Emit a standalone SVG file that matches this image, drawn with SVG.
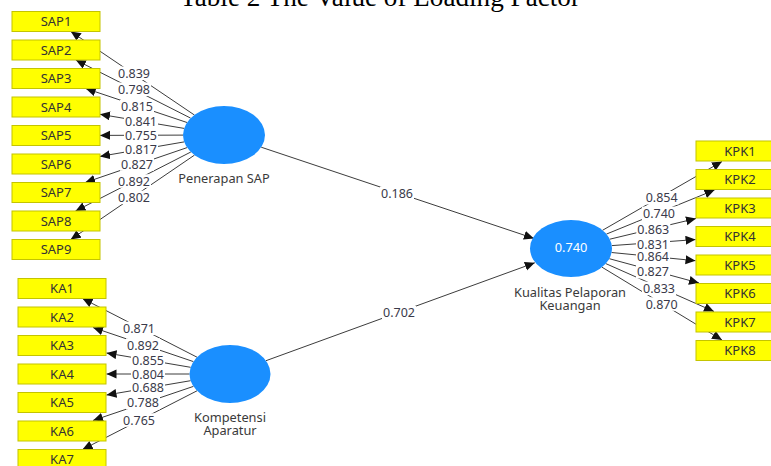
<svg xmlns="http://www.w3.org/2000/svg" width="771" height="466" viewBox="0 0 771 466">
<style>
.box{fill:#ffff00;stroke:#c4c400;stroke-width:1}
.bt{font-family:"Noto Sans","Open Sans",sans-serif;font-size:13px;fill:#333;text-anchor:middle}
.lv{fill:#1a8fff}
.lt{font-family:"Noto Sans","Open Sans",sans-serif;font-size:12.8px;fill:#3a3a3a;text-anchor:middle}
.ln{stroke:#3c3c3c;stroke-width:1;fill:none;marker-end:url(#ah)}
.lb{fill:#ffffff}
.lbt{font-family:"Noto Sans","Open Sans",sans-serif;font-size:12.5px;fill:#3a3a4a;text-anchor:middle}
.title{font-family:"Liberation Serif","Times New Roman",serif;font-size:26.5px;fill:#000}
</style>
<defs>
<marker id="ah" markerWidth="11" markerHeight="10" refX="10" refY="4.5" orient="auto" markerUnits="userSpaceOnUse">
<path d="M0,0 L10,4.5 L0,9 z" fill="#111"/>
</marker>
</defs>
<rect width="771" height="466" fill="#ffffff"/>
<text class="title" x="180" y="6" textLength="400" lengthAdjust="spacingAndGlyphs">Table 2 The Value of Loading Factor</text>

<g id="connectors">
<line class="ln" x1="194.4" y1="115.0" x2="70.8" y2="31.5"/>
<line class="ln" x1="190.6" y1="118.1" x2="75.8" y2="60"/>
<line class="ln" x1="187.0" y1="122.5" x2="85.7" y2="88.5"/>
<line class="ln" x1="184.1" y1="128.4" x2="100" y2="114.3"/>
<line class="ln" x1="183" y1="135.1" x2="100" y2="135.4"/>
<line class="ln" x1="184.2" y1="141.9" x2="100" y2="156.4"/>
<line class="ln" x1="187.1" y1="147.6" x2="85.2" y2="182.5"/>
<line class="ln" x1="190.8" y1="152.0" x2="75.5" y2="211"/>
<line class="ln" x1="194.5" y1="155.1" x2="70.7" y2="239.5"/>

<line class="ln" x1="197.0" y1="357.2" x2="82.5" y2="298.5"/>
<line class="ln" x1="193.4" y1="361.6" x2="93" y2="327.5"/>
<line class="ln" x1="190.6" y1="367.3" x2="106.5" y2="353.0"/>
<line class="ln" x1="189.5" y1="374" x2="106.5" y2="374"/>
<line class="ln" x1="190.6" y1="380.7" x2="106.5" y2="395.0"/>
<line class="ln" x1="193.4" y1="386.4" x2="93" y2="420.5"/>
<line class="ln" x1="197.0" y1="390.8" x2="82.5" y2="449.5"/>

<line class="ln" x1="602.5" y1="230.3" x2="722" y2="161.5"/>
<line class="ln" x1="606.4" y1="234.1" x2="714.5" y2="190"/>
<line class="ln" x1="609.8" y1="239.2" x2="696" y2="218.5"/>
<line class="ln" x1="611.8" y1="245.6" x2="695.5" y2="239.6"/>
<line class="ln" x1="611.6" y1="252.5" x2="695.5" y2="260.7"/>
<line class="ln" x1="609.3" y1="258.7" x2="699" y2="283"/>
<line class="ln" x1="605.8" y1="263.6" x2="714" y2="311.5"/>
<line class="ln" x1="602" y1="267.2" x2="722" y2="340"/>

<line class="ln" x1="261.2" y1="147.2" x2="533.9" y2="238.4"/>
<line class="ln" x1="266.0" y1="360.7" x2="534.8" y2="262.8"/>
</g>

<g id="edge-labels">
<rect class="lb" x="117" y="66.5" width="34" height="13.5"/><text class="lbt" x="134" y="78">0.839</text>
<rect class="lb" x="117" y="82.5" width="34" height="13.5"/><text class="lbt" x="134" y="94">0.798</text>
<rect class="lb" x="120" y="100" width="34" height="13.5"/><text class="lbt" x="137" y="111.4">0.815</text>
<rect class="lb" x="124" y="115" width="34" height="13.5"/><text class="lbt" x="141" y="126.4">0.841</text>
<rect class="lb" x="124" y="128.3" width="34" height="13.5"/><text class="lbt" x="141" y="139.7">0.755</text>
<rect class="lb" x="124" y="142.6" width="34" height="13.5"/><text class="lbt" x="141" y="154">0.817</text>
<rect class="lb" x="120" y="157.3" width="34" height="13.5"/><text class="lbt" x="137" y="168.7">0.827</text>
<rect class="lb" x="117" y="174.3" width="34" height="13.5"/><text class="lbt" x="134" y="185.7">0.892</text>
<rect class="lb" x="117" y="190.6" width="34" height="13.5"/><text class="lbt" x="134" y="202">0.802</text>

<rect class="lb" x="122" y="321.6" width="34" height="13.5"/><text class="lbt" x="139" y="333">0.871</text>
<rect class="lb" x="126" y="338.3" width="34" height="13.5"/><text class="lbt" x="143" y="349.7">0.892</text>
<rect class="lb" x="131" y="353.3" width="34" height="13.5"/><text class="lbt" x="148" y="364.7">0.855</text>
<rect class="lb" x="131" y="367.3" width="34" height="13.5"/><text class="lbt" x="148" y="378.7">0.804</text>
<rect class="lb" x="131" y="380.6" width="34" height="13.5"/><text class="lbt" x="148" y="392">0.688</text>
<rect class="lb" x="126" y="396" width="34" height="13.5"/><text class="lbt" x="143" y="407.4">0.788</text>
<rect class="lb" x="122" y="413.3" width="34" height="13.5"/><text class="lbt" x="139" y="424.7">0.765</text>

<rect class="lb" x="644.7" y="191" width="34" height="13.5"/><text class="lbt" x="661.7" y="202.4">0.854</text>
<rect class="lb" x="642" y="206.6" width="34" height="13.5"/><text class="lbt" x="659" y="218">0.740</text>
<rect class="lb" x="636.3" y="222.6" width="34" height="13.5"/><text class="lbt" x="653.3" y="234">0.863</text>
<rect class="lb" x="636" y="237.3" width="34" height="13.5"/><text class="lbt" x="653" y="248.7">0.831</text>
<rect class="lb" x="636" y="250" width="34" height="13.5"/><text class="lbt" x="653" y="261.4">0.864</text>
<rect class="lb" x="636" y="265" width="34" height="13.5"/><text class="lbt" x="653" y="276.4">0.827</text>
<rect class="lb" x="642" y="281.6" width="34" height="13.5"/><text class="lbt" x="659" y="293">0.833</text>
<rect class="lb" x="644.7" y="297.3" width="34" height="13.5"/><text class="lbt" x="661.7" y="308.7">0.870</text>

<rect class="lb" x="380" y="186.6" width="34" height="13.5"/><text class="lbt" x="397" y="198">0.186</text>
<rect class="lb" x="382" y="306" width="34" height="13.5"/><text class="lbt" x="399" y="317.4">0.702</text>
</g>

<g id="SAP1"><rect class="box" x="12" y="11.5" width="88" height="20"/><text class="bt" x="56" y="26">SAP1</text></g>
<g id="SAP2"><rect class="box" x="12" y="40" width="88" height="20"/><text class="bt" x="56" y="54.5">SAP2</text></g>
<g id="SAP3"><rect class="box" x="12" y="68.5" width="88" height="20"/><text class="bt" x="56" y="83">SAP3</text></g>
<g id="SAP4"><rect class="box" x="12" y="97" width="88" height="20"/><text class="bt" x="56" y="111.5">SAP4</text></g>
<g id="SAP5"><rect class="box" x="12" y="125.5" width="88" height="20"/><text class="bt" x="56" y="140">SAP5</text></g>
<g id="SAP6"><rect class="box" x="12" y="154" width="88" height="20"/><text class="bt" x="56" y="168.5">SAP6</text></g>
<g id="SAP7"><rect class="box" x="12" y="182.5" width="88" height="20"/><text class="bt" x="56" y="197">SAP7</text></g>
<g id="SAP8"><rect class="box" x="12" y="211" width="88" height="20"/><text class="bt" x="56" y="225.5">SAP8</text></g>
<g id="SAP9"><rect class="box" x="12" y="239.5" width="88" height="20"/><text class="bt" x="56" y="254">SAP9</text></g>

<g id="KA1"><rect class="box" x="18" y="278.5" width="88" height="20"/><text class="bt" x="62" y="293">KA1</text></g>
<g id="KA2"><rect class="box" x="18" y="307" width="88" height="20"/><text class="bt" x="62" y="321.5">KA2</text></g>
<g id="KA3"><rect class="box" x="18" y="335.5" width="88" height="20"/><text class="bt" x="62" y="350">KA3</text></g>
<g id="KA4"><rect class="box" x="18" y="364" width="88" height="20"/><text class="bt" x="62" y="378.5">KA4</text></g>
<g id="KA5"><rect class="box" x="18" y="392.5" width="88" height="20"/><text class="bt" x="62" y="407">KA5</text></g>
<g id="KA6"><rect class="box" x="18" y="421" width="88" height="20"/><text class="bt" x="62" y="435.5">KA6</text></g>
<g id="KA7"><rect class="box" x="18" y="449.5" width="88" height="20"/><text class="bt" x="62" y="464">KA7</text></g>

<g id="KPK1"><rect class="box" x="696" y="141" width="88" height="20"/><text class="bt" x="740" y="155.5">KPK1</text></g>
<g id="KPK2"><rect class="box" x="696" y="169.5" width="88" height="20"/><text class="bt" x="740" y="184">KPK2</text></g>
<g id="KPK3"><rect class="box" x="696" y="198" width="88" height="20"/><text class="bt" x="740" y="212.5">KPK3</text></g>
<g id="KPK4"><rect class="box" x="696" y="226.5" width="88" height="20"/><text class="bt" x="740" y="241">KPK4</text></g>
<g id="KPK5"><rect class="box" x="696" y="255" width="88" height="20"/><text class="bt" x="740" y="269.5">KPK5</text></g>
<g id="KPK6"><rect class="box" x="696" y="283.5" width="88" height="20"/><text class="bt" x="740" y="298">KPK6</text></g>
<g id="KPK7"><rect class="box" x="696" y="312" width="88" height="20"/><text class="bt" x="740" y="326.5">KPK7</text></g>
<g id="KPK8"><rect class="box" x="696" y="340.5" width="88" height="20"/><text class="bt" x="740" y="355">KPK8</text></g>

<g id="PenerapanSAP"><ellipse class="lv" cx="224" cy="135" rx="41" ry="29"/><text class="lt" x="224" y="183">Penerapan SAP</text></g>
<g id="KompetensiAparatur"><ellipse class="lv" cx="230" cy="374" rx="40.5" ry="29"/><text class="lt" x="230" y="421.5">Kompetensi</text><text class="lt" x="230" y="434.5">Aparatur</text></g>
<g id="KualitasPelaporanKeuangan"><ellipse class="lv" cx="571" cy="248.5" rx="41" ry="28.5"/><text class="lt" x="571" y="251.5" style="fill:#ffffff">0.740</text><text class="lt" x="570" y="297.3">Kualitas Pelaporan</text><text class="lt" x="570" y="310">Keuangan</text></g>
</svg>
